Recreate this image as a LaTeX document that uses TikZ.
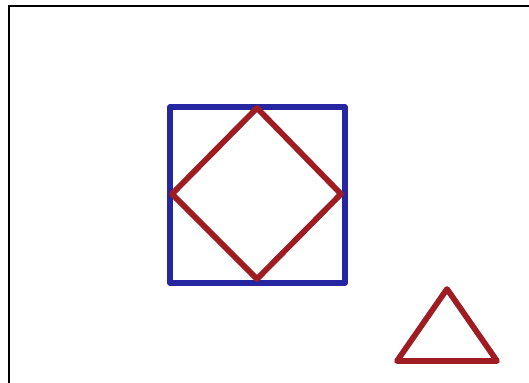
\documentclass[tikz,border=0pt]{standalone}
\usepackage{xcolor}
\usepackage{tikz}

\definecolor{sqblue}{RGB}{38,38,160}
\definecolor{shapered}{RGB}{158,28,34}

\begin{document}
\begin{tikzpicture}[x=0.02cm, y=-0.02cm,
    frameline/.style={draw=black, line width=1pt},
    outline/.style={line width=0.115cm, line join=round, line cap=round}]
    \useasboundingbox (0,0) rectangle (529,383);
    % frame (top and left edge only)
    \draw[frameline] (529,6) -- (9,6) -- (9,383);
    % square with the diamond inside
    \coordinate (sqa) at (170,107);
    \coordinate (sqb) at (345,283);
    \draw[outline, draw=sqblue] (sqa) rectangle (sqb);
    \coordinate (dtop) at (257,108);
    \coordinate (dright) at (341,194);
    \coordinate (dbottom) at (257,279);
    \coordinate (dleft) at (172,194);
    \draw[outline, draw=shapered] (dtop) -- (dright) -- (dbottom) -- (dleft) -- cycle;
    % triangle
    \coordinate (tapex) at (447,289);
    \coordinate (tleft) at (397,361);
    \coordinate (tright) at (497,361);
    \draw[outline, draw=shapered] (tapex) -- (tright) -- (tleft) -- cycle;
\end{tikzpicture}
\end{document}
